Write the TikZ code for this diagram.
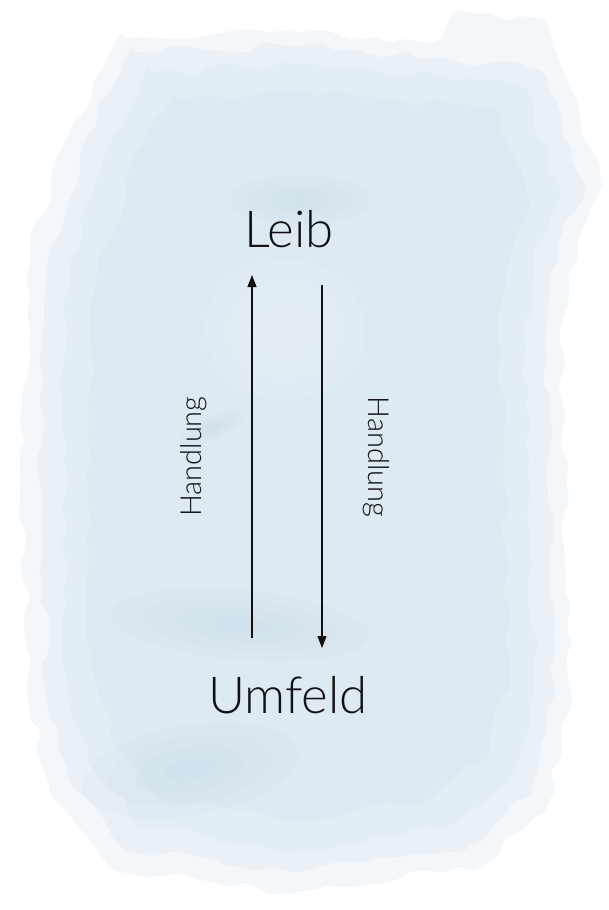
\documentclass[tikz,border=0pt]{standalone}
\usepackage{fontspec}
\setmainfont{Lato}[UprightFont=* Light]
\usetikzlibrary{arrows.meta, positioning, calc, decorations.pathmorphing}
\definecolor{washblue}{HTML}{D4E4EF}
\definecolor{washdeep}{HTML}{9DBAD8}
\definecolor{inkblack}{HTML}{111111}

\begin{document}
\begin{tikzpicture}[
  x=1pt, y=-1pt,
  term/.style={font=\fontsize{51}{60}\selectfont, text=inkblack,
               inner sep=0pt, anchor=base},
  actlabel/.style={font=\fontsize{29}{34}\selectfont, text=inkblack,
                   inner sep=0pt, sloped},
  arr/.style={-{Triangle[length=12pt, width=9pt]}, line width=1.2pt, inkblack},
  wash/.style={fill=washblue, fill opacity=0.28, draw=none, decorate,
               decoration={random steps, segment length=16pt, amplitude=6pt},
               rounded corners=7pt},
  smudge/.style={fill=washdeep, fill opacity=0.045, draw=none}
]
  \useasboundingbox (0,0) rectangle (609,910);
  \fill[white] (0,0) rectangle (609,910);

  % watercolour wash
  \pgfmathsetseed{11}
  \fill[wash] (118,38) -- (300,32) -- (435,42) -- (452,14) -- (540,18)
    -- (560,62) -- (602,180) -- (580,235) -- (560,330) -- (572,700)
    -- (548,805) -- (480,868) -- (300,892) -- (120,872) -- (55,800)
    -- (28,700) -- (22,400) -- (30,250) -- (70,130) -- cycle;
  \fill[wash] (128,52) -- (300,46) -- (445,58) -- (540,70) -- (585,185)
    -- (560,240) -- (545,340) -- (555,690) -- (532,790) -- (468,848)
    -- (300,872) -- (130,852) -- (72,785) -- (45,690) -- (40,400)
    -- (48,255) -- (85,140) -- cycle;
  \fill[wash] (145,72) -- (300,64) -- (520,85) -- (560,190) -- (535,250)
    -- (525,350) -- (535,680) -- (512,775) -- (450,826) -- (300,850)
    -- (145,830) -- (92,768) -- (66,675) -- (62,400) -- (70,265)
    -- (105,155) -- cycle;
  \fill[wash] (170,98) -- (300,90) -- (495,108) -- (530,200) -- (508,265)
    -- (500,360) -- (510,665) -- (488,755) -- (428,800) -- (300,822)
    -- (165,802) -- (115,745) -- (90,655) -- (88,400) -- (96,280)
    -- (128,175) -- cycle;

  % darker and lighter patches in the wash
  \foreach \cx/\cy/\rx/\ry/\ang in {212/428/34/12/25, 240/625/130/35/-5,
      190/770/110/45/10, 300/200/70/25/0}
    \foreach \k in {1, 0.75, 0.5, 0.25}
      \fill[smudge, rotate around={\ang:(\cx,\cy)}]
        (\cx,\cy) ellipse [x radius=\k*\rx, y radius=\k*\ry];
  \foreach \k in {1, 0.7, 0.4}
    \fill[white, fill opacity=0.08] (285,330)
      ellipse [x radius=\k*80, y radius=\k*70];

  % terms
  \node[term] (leib) at (289,247) {Leib};
  \node[term] (umfeld) at (288,713) {Umfeld};

  % actions between them
  \draw[arr] ($(umfeld.base)+(-36,-75)$) --
    node[actlabel, midway, above=45pt] {Handlung}
    ($(leib.base)+(-37,28)$);
  \draw[arr] ($(leib.base)+(33,38)$) --
    node[actlabel, pos=0.474, above=41pt] {Handlung}
    ($(umfeld.base)+(34,-65)$);
\end{tikzpicture}
\end{document}
